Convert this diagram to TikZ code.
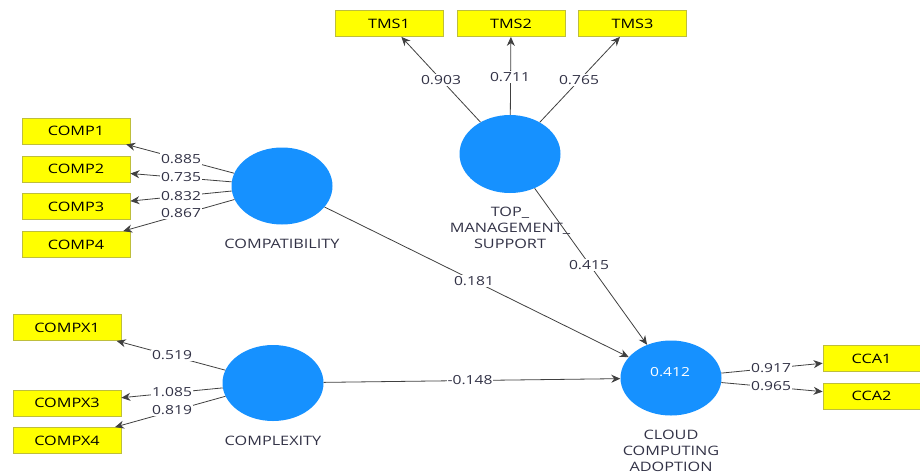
\documentclass[tikz,border=0pt]{standalone}
\usepackage{fontspec}
\setmainfont{Open Sans}[FakeStretch=1.25]
\usetikzlibrary{arrows.meta,shapes.geometric}
\definecolor{lvblue}{RGB}{22,145,255}
\definecolor{mvyellow}{RGB}{255,255,0}
\definecolor{mvborder}{RGB}{190,190,60}
\definecolor{txtgray}{RGB}{50,50,70}
\tikzset{
  latent/.style={ellipse, fill=lvblue, draw=none, minimum width=#1},
  latent/.default=101pt,
  ind/.style={draw=mvborder, line width=0.8pt, fill=mvyellow, minimum width=108pt, minimum height=26pt, inner sep=0pt, font=\fontsize{13}{14}\selectfont, text=black},
  lbl/.style={fill=white, inner sep=1pt, font=\fontsize{12.5}{14}\selectfont, text=txtgray},
  lvcaption/.style={font=\fontsize{13}{16}\selectfont, text=txtgray, align=center},
  conn/.style={draw=black!75, line width=0.8pt, -{Stealth[length=9pt,width=8pt]}}
}
\begin{document}
\begin{tikzpicture}[x=1pt,y=-1pt]
\useasboundingbox (0,0) rectangle (920,475);
% latent variables
\node[latent, minimum height=77pt] (comp) at (282,186) {};
\node[latent, minimum height=76pt] (cplx) at (273,383) {};
\node[latent, minimum height=78pt] (tms) at (510,154) {};
\node[latent, minimum height=75pt] (cca) at (671,378) {};
\node[text=white, font=\fontsize{12.5}{14}\selectfont] (ccaR) at (670,372) {0.412};
% captions
\node[lvcaption] (compL) at (282,244) {COMPATIBILITY};
\node[lvcaption] (cplxL) at (273,441) {COMPLEXITY};
\node[lvcaption] (tmsL) at (510,228) {TOP\_\\MANAGEMENT\_\\SUPPORT};
\node[lvcaption] (ccaL) at (671,451) {CLOUD\\COMPUTING\\ADOPTION};
% indicators
\node[ind] (c1) at (76,131) {COMP1};
\node[ind] (c2) at (76,169) {COMP2};
\node[ind] (c3) at (76,206.5) {COMP3};
\node[ind] (c4) at (76,244.5) {COMP4};
\node[ind] (x1) at (67,327.5) {COMPX1};
\node[ind] (x3) at (67,403) {COMPX3};
\node[ind] (x4) at (67,440.5) {COMPX4};
\node[ind] (t1) at (389,23.5) {TMS1};
\node[ind] (t2) at (511,23.5) {TMS2};
\node[ind] (t3) at (632.5,23.5) {TMS3};
\node[ind, minimum width=97pt] (a1) at (871.5,358.5) {CCA1};
\node[ind, minimum width=97pt] (a2) at (871.5,396) {CCA2};
% connectors
\draw[conn] (comp) -- (c1);
\draw[conn] (comp) -- (c2);
\draw[conn] (comp) -- (c3);
\draw[conn] (comp) -- (c4);
\draw[conn] (cplx) -- (x1);
\draw[conn] (cplx) -- (x3);
\draw[conn] (cplx) -- (x4);
\draw[conn] (tms) -- (t1);
\draw[conn] (tms) -- (t2);
\draw[conn] (tms) -- (t3);
\draw[conn] (cca) -- (a1);
\draw[conn] (cca) -- (a2);
\draw[conn] (comp) -- (cca);
\draw[conn] (tms) -- (cca);
\draw[conn] (cplx) -- (cca);
% labels
\node[lbl] (l1) at (181,159) {0.885};
\node[lbl] (l2) at (181,177.5) {0.735};
\node[lbl] (l3) at (181,196) {0.832};
\node[lbl] (l4) at (181,213.5) {0.867};
\node[lbl] (l5) at (172,355.5) {0.519};
\node[lbl] (l6) at (172,392.5) {1.085};
\node[lbl] (l7) at (172,410.5) {0.819};
\node[lbl] (l8) at (441,80) {0.903};
\node[lbl] (l9) at (510,77) {0.711};
\node[lbl] (l10) at (579,80) {0.765};
\node[lbl] (l11) at (771,368.5) {0.917};
\node[lbl] (l12) at (771,386) {0.965};
\node[lbl] (l13) at (474,281) {0.181};
\node[lbl] (l14) at (589,265) {0.415};
\node[lbl] (l15) at (470,380) {-0.148};
\end{tikzpicture}
\end{document}
